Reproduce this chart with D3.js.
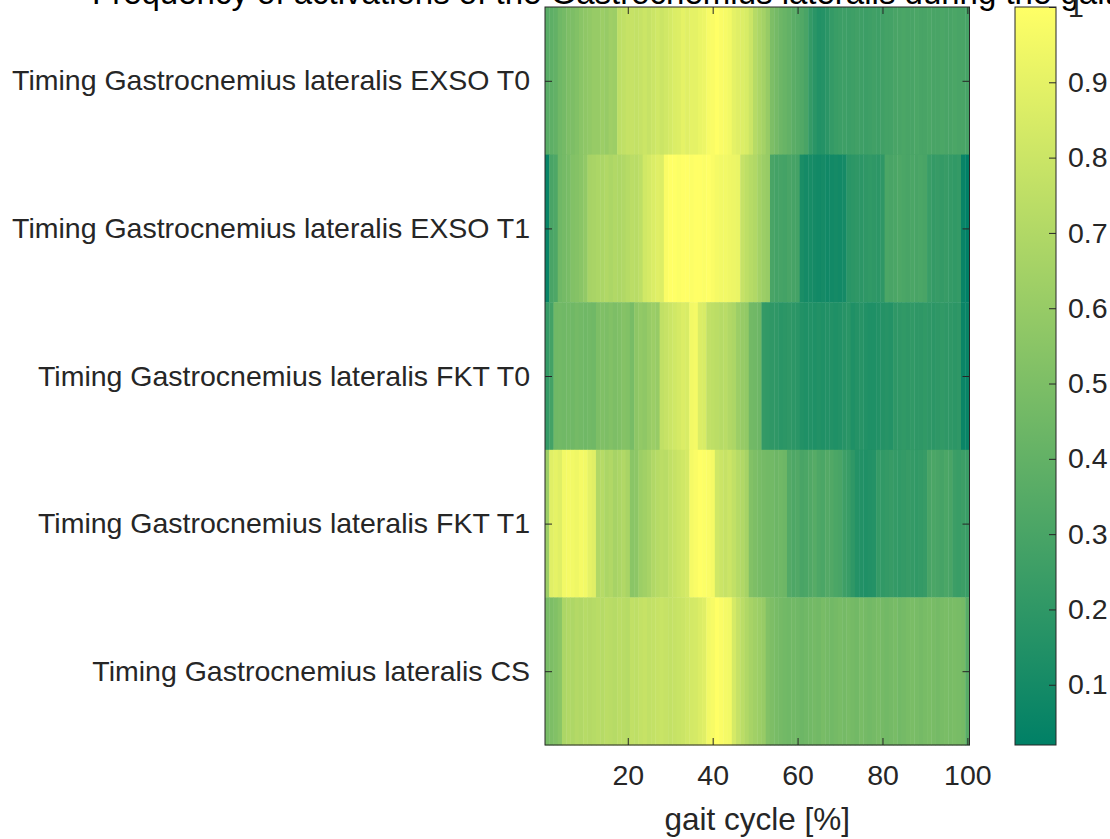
<!DOCTYPE html>
<html>
<head>
<meta charset="utf-8">
<script src="https://cdn.jsdelivr.net/npm/d3@7"></script>
<style>
  body { margin: 0; background: #fff; }
  svg { display: block; font-family: "Liberation Sans", Arial, sans-serif; }
</style>
</head>
<body>
<svg id="chart" width="1110" height="839"></svg>
<script>
// row labels, top to bottom
const rowLabels = [
  'Timing Gastrocnemius lateralis EXSO T0',
  'Timing Gastrocnemius lateralis EXSO T1',
  'Timing Gastrocnemius lateralis FKT T0',
  'Timing Gastrocnemius lateralis FKT T1',
  'Timing Gastrocnemius lateralis CS'
];

// frequency of activation per % of gait cycle (1..100)
const exsoT0 = [
  0.36,0.38,0.40,0.45,0.47,0.50,0.50,0.52,0.55,0.57,
  0.58,0.60,0.60,0.62,0.60,0.63,0.62,0.75,0.76,0.78,
  0.78,0.77,0.78,0.80,0.78,0.80,0.82,0.80,0.82,0.84,
  0.86,0.87,0.90,0.88,0.90,0.90,0.92,0.93,0.97,0.98,
  1.00,0.98,0.97,0.95,0.90,0.88,0.87,0.85,0.80,0.72,
  0.68,0.65,0.60,0.50,0.47,0.44,0.42,0.40,0.37,0.35,
  0.33,0.30,0.22,0.18,0.15,0.16,0.18,0.22,0.24,0.25,
  0.26,0.25,0.26,0.27,0.26,0.25,0.26,0.27,0.26,0.27,
  0.28,0.28,0.30,0.30,0.31,0.30,0.30,0.31,0.30,0.30,
  0.31,0.30,0.30,0.31,0.30,0.30,0.31,0.30,0.30,0.29
];
const exsoT1 = [
  0.05,0.30,0.32,0.45,0.47,0.48,0.52,0.53,0.55,0.58,
  0.66,0.67,0.68,0.68,0.70,0.68,0.70,0.69,0.70,0.72,
  0.74,0.73,0.75,0.82,0.84,0.86,0.88,0.87,0.98,1.00,
  1.00,0.99,1.00,1.00,0.99,1.00,1.00,0.99,1.00,0.98,
  0.96,0.95,0.95,0.94,0.93,0.92,0.78,0.75,0.72,0.70,
  0.65,0.62,0.60,0.30,0.28,0.29,0.28,0.30,0.29,0.28,
  0.12,0.10,0.11,0.10,0.09,0.10,0.08,0.09,0.10,0.09,
  0.10,0.18,0.19,0.20,0.19,0.20,0.21,0.20,0.19,0.20,
  0.31,0.30,0.31,0.32,0.31,0.30,0.31,0.30,0.31,0.30,
  0.24,0.22,0.23,0.22,0.23,0.22,0.21,0.22,0.05,0.02
];
const fktT0 = [
  0.22,0.28,0.45,0.46,0.45,0.46,0.45,0.47,0.46,0.45,
  0.46,0.45,0.50,0.51,0.50,0.52,0.50,0.51,0.53,0.52,
  0.48,0.56,0.58,0.57,0.60,0.62,0.60,0.76,0.78,0.80,
  0.82,0.84,0.86,0.85,0.95,0.96,0.86,0.85,0.76,0.75,
  0.74,0.72,0.73,0.70,0.68,0.62,0.60,0.58,0.46,0.45,
  0.44,0.22,0.21,0.20,0.20,0.18,0.19,0.20,0.19,0.18,
  0.15,0.14,0.15,0.14,0.15,0.14,0.15,0.15,0.14,0.15,
  0.17,0.18,0.14,0.16,0.17,0.15,0.14,0.14,0.15,0.16,
  0.17,0.16,0.20,0.20,0.21,0.20,0.21,0.20,0.20,0.21,
  0.20,0.19,0.20,0.21,0.20,0.20,0.19,0.20,0.06,0.05
];
const fktT1 = [
  0.62,0.88,0.90,0.88,0.95,0.96,0.95,0.94,0.96,0.95,
  0.90,0.88,0.70,0.72,0.68,0.70,0.66,0.68,0.70,0.67,
  0.55,0.56,0.62,0.64,0.66,0.70,0.72,0.74,0.73,0.76,
  0.78,0.80,0.82,0.84,0.96,0.98,1.00,0.99,0.98,0.96,
  0.82,0.80,0.78,0.80,0.76,0.72,0.70,0.66,0.52,0.50,
  0.48,0.47,0.46,0.46,0.44,0.45,0.44,0.34,0.32,0.33,
  0.30,0.31,0.33,0.35,0.32,0.31,0.34,0.33,0.31,0.30,
  0.26,0.24,0.20,0.16,0.15,0.14,0.15,0.16,0.22,0.21,
  0.22,0.23,0.22,0.21,0.22,0.23,0.22,0.21,0.22,0.23,
  0.30,0.31,0.30,0.29,0.31,0.30,0.25,0.24,0.25,0.24
];
const cs = [
  0.48,0.50,0.52,0.55,0.68,0.70,0.69,0.71,0.70,0.72,
  0.71,0.72,0.73,0.72,0.74,0.73,0.72,0.74,0.73,0.72,
  0.76,0.75,0.77,0.78,0.76,0.77,0.78,0.79,0.78,0.77,
  0.78,0.79,0.80,0.82,0.83,0.84,0.86,0.88,0.95,0.97,
  1.00,0.98,0.96,0.95,0.84,0.78,0.74,0.70,0.66,0.64,
  0.62,0.60,0.52,0.50,0.48,0.47,0.46,0.45,0.46,0.45,
  0.44,0.45,0.46,0.47,0.46,0.48,0.47,0.46,0.47,0.48,
  0.47,0.48,0.47,0.46,0.48,0.47,0.46,0.47,0.48,0.47,
  0.46,0.47,0.48,0.46,0.47,0.48,0.49,0.48,0.47,0.48,
  0.49,0.48,0.47,0.48,0.49,0.48,0.49,0.48,0.47,0.36
];

const xTicks = [20, 40, 60, 80, 100];
const cbTicks = [0.1, 0.2, 0.3, 0.4, 0.5, 0.6, 0.7, 0.8, 0.9, 1];
const titleText = 'Frequency of activations of the Gastrocnemius lateralis during the gait cycle';
const xLabel = 'gait cycle [%]';

const rows = [exsoT0, exsoT1, fktT0, fktT1, cs];
const cells = [];
rows.forEach((vals, r) => vals.forEach((v, i) => cells.push({ row: r + 1, col: i + 1, v })));

const svg = d3.select('#chart');
const ink = '#262626';
const fs = 28.5;

const plot = { left: 545, right: 969.5, top: 7, bottom: 745 };
const x = d3.scaleLinear().domain([0.5, 100.5]).range([plot.left, plot.right]);
const y = d3.scaleLinear().domain([0.5, rows.length + 0.5]).range([plot.top, plot.bottom]);

// MATLAB "summer" map: linear from (0,.5,.4) to (1,1,.4)
const cExt = d3.extent(cells, d => d.v);
const color = d3.scaleLinear().domain(cExt).range(['#008066', '#ffff66']);

// cells
svg.append('g')
  .selectAll('rect')
  .data(cells)
  .join('rect')
  .attr('x', d => x(d.col - 0.5))
  .attr('y', d => y(d.row - 0.5))
  .attr('width', d => x(d.col + 0.5) - x(d.col - 0.5) + 0.4)
  .attr('height', d => y(d.row + 0.5) - y(d.row - 0.5) + 0.4)
  .attr('fill', d => color(d.v));

// axes, ticks pointing inward and mirrored on the opposite sides
const styleAxis = g => {
  g.select('.domain').remove();
  g.selectAll('line').attr('stroke', ink);
  g.selectAll('text').attr('fill', ink).style('font-size', fs + 'px');
};

svg.append('g')
  .attr('transform', `translate(0,${plot.bottom})`)
  .call(d3.axisBottom(x).tickValues(xTicks).tickSize(-7).tickPadding(20))
  .call(styleAxis);
svg.append('g')
  .attr('transform', `translate(0,${plot.top})`)
  .call(d3.axisTop(x).tickValues(xTicks).tickSize(-7).tickFormat(''))
  .call(styleAxis);
svg.append('g')
  .attr('transform', `translate(${plot.left},0)`)
  .call(d3.axisLeft(y).tickValues(d3.range(1, rows.length + 1)).tickSize(-7).tickPadding(15)
    .tickFormat(d => rowLabels[d - 1]))
  .call(styleAxis);
svg.append('g')
  .attr('transform', `translate(${plot.right},0)`)
  .call(d3.axisRight(y).tickValues(d3.range(1, rows.length + 1)).tickSize(-7).tickFormat(''))
  .call(styleAxis);

svg.append('rect')
  .attr('x', plot.left).attr('y', plot.top)
  .attr('width', plot.right - plot.left).attr('height', plot.bottom - plot.top)
  .attr('fill', 'none').attr('stroke', ink).attr('stroke-width', 1);

svg.append('text')
  .attr('x', (plot.left + plot.right) / 2).attr('y', 830)
  .attr('text-anchor', 'middle').attr('fill', ink)
  .style('font-size', '31.5px')
  .text(xLabel);

// title, mostly off the top of the canvas like the original
svg.append('text')
  .attr('x', 92).attr('y', 4)
  .attr('fill', '#000')
  .style('font-size', '33px')
  .text(titleText);

// colorbar
const cb = { left: 1015, right: 1056, top: 7, bottom: 745 };
const cy = d3.scaleLinear().domain(cExt).range([cb.bottom, cb.top]);

const grad = svg.append('defs').append('linearGradient')
  .attr('id', 'cbGrad').attr('x1', 0).attr('y1', 1).attr('x2', 0).attr('y2', 0);
grad.append('stop').attr('offset', 0).attr('stop-color', color(cExt[0]));
grad.append('stop').attr('offset', 1).attr('stop-color', color(cExt[1]));

svg.append('rect')
  .attr('x', cb.left).attr('y', cb.top)
  .attr('width', cb.right - cb.left).attr('height', cb.bottom - cb.top)
  .attr('fill', 'url(#cbGrad)').attr('stroke', ink).attr('stroke-width', 1);

svg.append('g')
  .attr('transform', `translate(${cb.right},0)`)
  .call(d3.axisRight(cy).tickValues(cbTicks).tickSize(-7).tickPadding(12).tickFormat(d3.format('')))
  .call(styleAxis);
</script>
</body>
</html>
